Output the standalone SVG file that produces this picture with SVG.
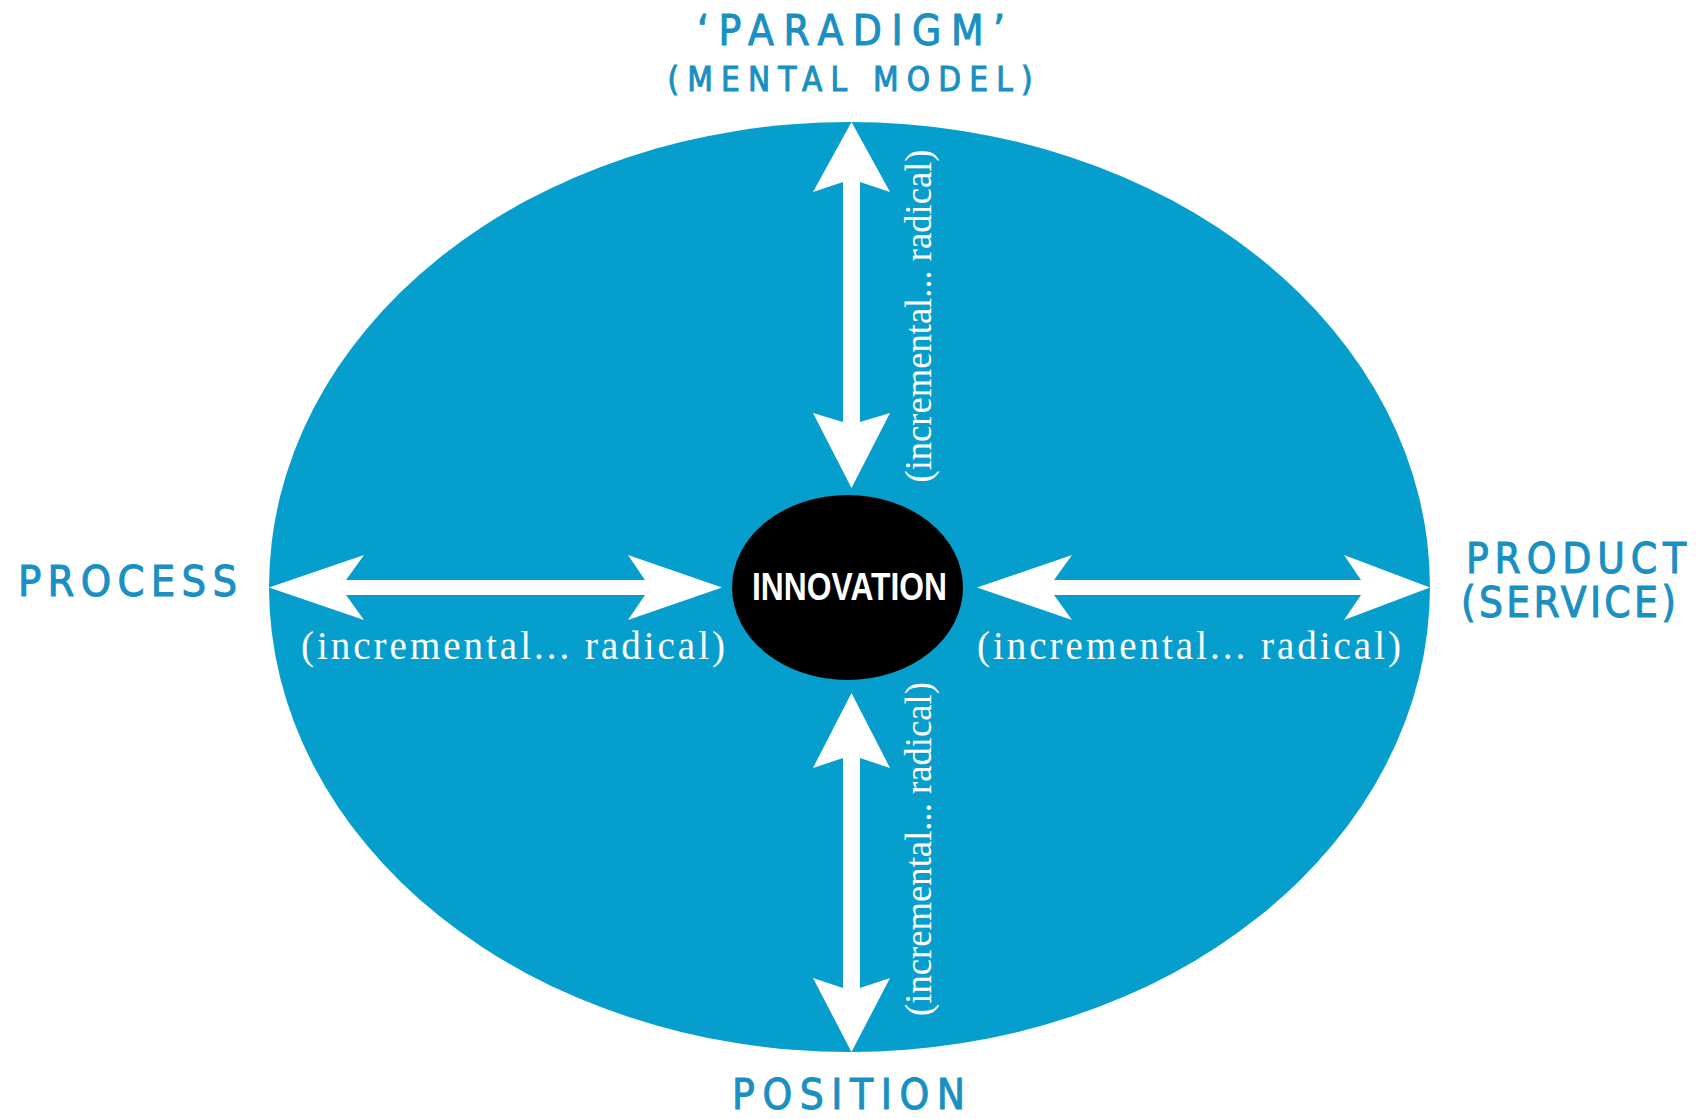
<svg xmlns="http://www.w3.org/2000/svg" width="1704" height="1119" viewBox="0 0 1704 1119">
<style>
.bg{fill:#ffffff}
.oval{fill:#069fcd}
.core{fill:#000000}
.arrow{fill:#ffffff}
.head{font-family:"Liberation Sans Narrow","DejaVu Sans Condensed","Liberation Sans",Arial,sans-serif;fill:#1a90c2;stroke:#1a90c2;stroke-width:1}
.core-t{font-family:"Liberation Sans Narrow","Liberation Sans",Arial,sans-serif;font-weight:bold;fill:#ffffff;font-size:39px}
.lab{font-family:"Liberation Serif","Times New Roman",serif;fill:#ffffff}
</style>
<rect class="bg" x="0" y="0" width="1704" height="1119"/>
<g id="field">
<ellipse class="oval" cx="849.5" cy="587" rx="580.5" ry="465"/>
</g>
<g id="connectors">
<polygon class="arrow" points="269,587.5 364,555 346,580 645,580 628,555 722,587.5 628,620 645,595 346,595 364,620"/>
<polygon class="arrow" points="977,587.5 1072,555 1054,580 1361,580 1344,555 1430,587.5 1344,620 1361,595 1054,595 1072,620"/>
<polygon class="arrow" points="851.5,122 890,192 860,182 860,422 890,413 851.5,488 813,413 843,422 843,182 813,192"/>
<polygon class="arrow" points="851.5,693 890,768 860,758 860,988 890,978 851.5,1052 813,978 843,988 843,758 813,768"/>
</g>
<g id="innovation">
<ellipse class="core" cx="847.5" cy="587.5" rx="115.5" ry="92.5"/>
<text class="core-t" x="849.5" y="600" text-anchor="middle" textLength="195" lengthAdjust="spacingAndGlyphs">INNOVATION</text>
</g>
<g id="paradigm">
<text class="head" x="851" y="45" font-size="42" text-anchor="middle" textLength="308" lengthAdjust="spacing">‘PARADIGM’</text>
<text class="head" x="850" y="91" font-size="33" text-anchor="middle" textLength="365" lengthAdjust="spacing">(MENTAL MODEL)</text>
</g>
<g id="process">
<text class="head" x="127.5" y="596" font-size="43" text-anchor="middle" textLength="219" lengthAdjust="spacing">PROCESS</text>
</g>
<g id="product">
<text class="head" x="1576" y="573" font-size="42" text-anchor="middle" textLength="220" lengthAdjust="spacing">PRODUCT</text>
<text class="head" x="1568.5" y="617" font-size="42" text-anchor="middle" textLength="215" lengthAdjust="spacing">(SERVICE)</text>
</g>
<g id="position">
<text class="head" x="848.5" y="1109" font-size="42" text-anchor="middle" textLength="233" lengthAdjust="spacing">POSITION</text>
</g>
<g id="labels">
<text class="lab" x="513" y="659" font-size="39" text-anchor="middle" textLength="424" lengthAdjust="spacing">(incremental... radical)</text>
<text class="lab" x="1189" y="659" font-size="39" text-anchor="middle" textLength="424" lengthAdjust="spacing">(incremental... radical)</text>
<text class="lab" transform="translate(931,316) rotate(-90)" font-size="37" x="0" y="0" text-anchor="middle" textLength="333" lengthAdjust="spacingAndGlyphs">(incremental... radical)</text>
<text class="lab" transform="translate(931,849) rotate(-90)" font-size="37" x="0" y="0" text-anchor="middle" textLength="334" lengthAdjust="spacingAndGlyphs">(incremental... radical)</text>
</g>
</svg>
